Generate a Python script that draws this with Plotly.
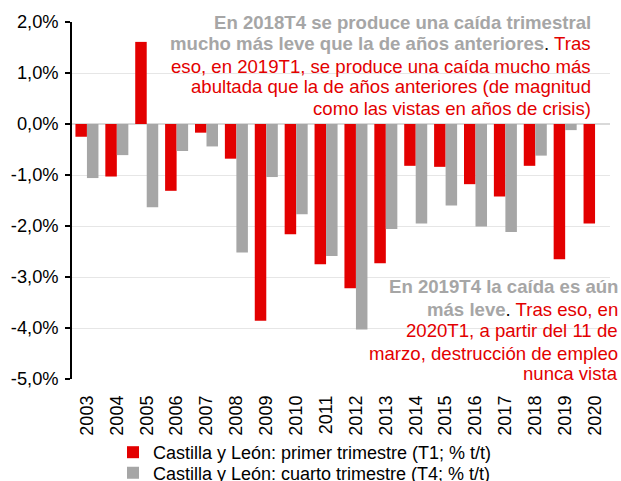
import plotly.graph_objects as go

years = [str(y) for y in range(2003, 2021)]
t1_values = [-0.25, -1.03, 1.61, -1.31, -0.17, -0.68, -3.86, -2.16, -2.75, -3.22,
             -2.73, -0.82, -0.84, -1.18, -1.42, -0.82, -2.65, -1.95]
t4_values = [-1.06, -0.61, -1.63, -0.53, -0.44, -2.52, -1.04, -1.77, -2.59, -4.03,
             -2.06, -1.95, -1.60, -2.01, -2.12, -0.62, -0.12, None]
y_ticks = [2, 1, 0, -1, -2, -3, -4, -5]
y_tick_labels = ["2,0%", "1,0%", "0,0%", "-1,0%", "-2,0%", "-3,0%", "-4,0%", "-5,0%"]

RED = "#e30000"
GREY = "#a6a6a6"
FONT = "Arial, Liberation Sans, sans-serif"

# plot area in pixels
L, R, T, B = 72, 11, 22, 102
W, H = 621, 481
PW, PH = W - L - R, H - T - B


def px_x(x):
    return (x - L) / PW


def px_y(y):
    return (H - B - y) / PH


fig = go.Figure()
fig.add_trace(go.Bar(x=years, y=t1_values, name="Castilla y León: primer trimestre (T1; % t/t)",
                     marker=dict(color=RED, line=dict(width=0)), legend="legend"))
fig.add_trace(go.Bar(x=years, y=t4_values, name="Castilla y León: cuarto trimestre (T4; % t/t)",
                     marker=dict(color=GREY, line=dict(width=0)), legend="legend2"))

leg_common = dict(orientation="v", xanchor="left", yanchor="middle",
                  font=dict(family=FONT, size=18, color="black"),
                  itemwidth=30, bgcolor="rgba(0,0,0,0)")
fig.update_layout(
    width=W, height=H,
    margin=dict(l=L, r=R, t=T, b=B, autoexpand=False),
    paper_bgcolor="white", plot_bgcolor="white",
    barmode="group", bargap=0.23, bargroupgap=0,
    font=dict(family=FONT, size=18, color="black"),
    showlegend=True,
    legend=dict(x=px_x(113), y=px_y(452.5), **leg_common),
    legend2=dict(x=px_x(113), y=px_y(473), **leg_common),
)
fig.update_yaxes(range=[-5, 2], tickvals=y_ticks, ticktext=y_tick_labels, automargin=False,
                 showgrid=True, gridcolor="#e6e6e6", gridwidth=1,
                 zeroline=True, zerolinecolor="#d9d9d9", zerolinewidth=1.5,
                 showline=True, linecolor="black", linewidth=1.5,
                 ticks="outside", ticklen=5, tickcolor="black", tickwidth=1.5,
                 tickfont=dict(size=18.3), ticklabelstandoff=3)
fig.update_xaxes(type="category", tickangle=-90, showline=False, showgrid=False, automargin=False,
                 ticks="", tickfont=dict(size=18), ticklabelstandoff=12)

G = "<b><span style='color:#a6a6a6'>{}</span></b>"
Rd = "<span style='color:#e30000'>{}</span>"
top_lines = [
    G.format("En 2018T4 se produce una caída trimestral"),
    G.format("mucho más leve que la de años anteriores") + "." + Rd.format(" Tras"),
    Rd.format("eso, en 2019T1, se produce una caída mucho más"),
    Rd.format("abultada que la de años anteriores (de magnitud"),
    Rd.format("como las vistas en años de crisis)"),
]
top_y = [22.7, 43.3, 66.3, 86.7, 108.3]
bottom_lines = [
    G.format("En 2019T4 la caída es aún"),
    G.format("más leve") + "." + Rd.format(" Tras eso, en"),
    Rd.format("2020T1, a partir del 11 de"),
    Rd.format("marzo, destrucción de empleo"),
    Rd.format("nunca vista"),
]
bottom_y = [286.7, 309, 330.8, 353, 373.8]

for txt, yy in zip(top_lines, top_y):
    fig.add_annotation(text=txt, xref="paper", yref="paper", x=px_x(592), y=px_y(yy),
                       xanchor="right", yanchor="middle", align="right", showarrow=False,
                       borderpad=0, font=dict(family=FONT, size=18.6, color="black"))
for txt, yy in zip(bottom_lines, bottom_y):
    fig.add_annotation(text=txt, xref="paper", yref="paper", x=px_x(619), y=px_y(yy),
                       xanchor="right", yanchor="middle", align="right", showarrow=False,
                       borderpad=0, font=dict(family=FONT, size=18.6, color="black"))

fig.write_html("out.html", config={"displayModeBar": False},
               post_script="document.body.style.margin='0px';")
